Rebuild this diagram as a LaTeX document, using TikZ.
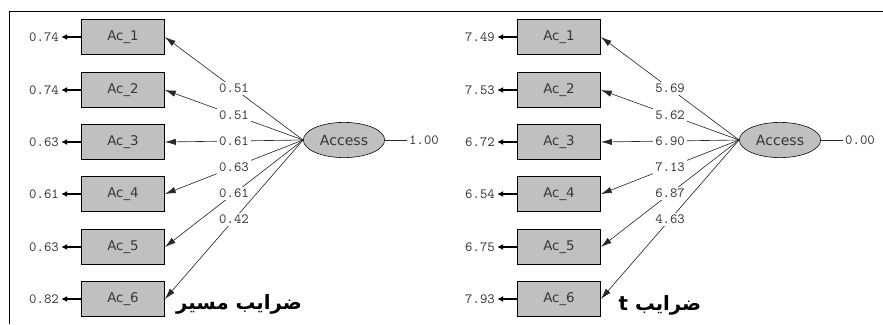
\documentclass[tikz,border=0pt]{standalone}
\usepackage{fontspec}
\setmainfont{DejaVu Sans}
\newfontfamily\arabicfont[Script=Arabic]{DejaVu Sans}
\TeXXeTstate=1
\definecolor{BoxGray}{RGB}{192,192,192}
\definecolor{LineGray}{RGB}{40,40,40}
\definecolor{TextGray}{RGB}{55,55,55}
\usetikzlibrary{arrows.meta, positioning, shapes.geometric}

\begin{document}
\begin{tikzpicture}[x=0.025cm, y=-0.025cm,
    obs/.style={draw, thick, fill=BoxGray, text=TextGray, minimum width=2.07cm, minimum height=0.86cm, font=\fontsize{9.5}{11}\selectfont},
    lat/.style={ellipse, draw, fill=BoxGray, text=TextGray, minimum width=2.02cm, minimum height=0.88cm, font=\fontsize{10}{12}\selectfont},
    num/.style={font=\ttfamily\fontsize{10}{11}\selectfont, text=TextGray, inner sep=1.5pt},
    coef/.style={-{Latex[length=2.7mm, width=1.6mm]}, LineGray, line width=0.45pt},
    err/.style={-{Latex[length=1.5mm, width=1.5mm]}, line width=1.2pt},
    caption/.style={font=\arabicfont\bfseries\fontsize{14}{16}\selectfont}]
  \useasboundingbox (0,0) rectangle (883,324);
  \draw[line width=1pt] (9.5,324) -- (9.5,11.5) -- (883,11.5);
  \node[lat] (accL) at (344,140) {Access};
  \node[lat] (accR) at (780,140) {Access};
  \node[num] (resL) at (424,140) {1.00};
  \node[num] (resR) at (860,140) {0.00};
  \draw[LineGray, line width=0.4pt] (accL) -- (resL);
  \draw[LineGray, line width=0.4pt] (accR) -- (resR);
  \foreach \p/\dx/\i/\y/\e/\b in {L/0/1/37/0.74/0.51, L/0/2/90/0.74/0.51, L/0/3/142/0.63/0.61,
      L/0/4/194/0.61/0.63, L/0/5/247/0.63/0.61, L/0/6/299/0.82/0.42,
      R/436/1/37/7.49/5.69, R/436/2/90/7.53/5.62, R/436/3/142/6.72/6.90,
      R/436/4/194/6.54/7.13, R/436/5/247/6.75/6.87, R/436/6/299/7.93/4.63} {
    \node[obs] (\p\i) at (123+\dx,\y) {Ac\_\i};
    \node[num] (e\p\i) at (44+\dx,\y) {\e};
    \draw[err] (\p\i.west) -- (e\p\i.east);
    \draw[coef] (acc\p.west) -- node[num, fill=white, pos=0.5] (b\p\i) {\b} (\p\i.east);
  }
  \node[caption] (capL) at (239,304) {\beginR ضرایب مسیر\endR};
  \node[caption] (capR) at (660,305) {\beginR ضرایب t\endR};
\end{tikzpicture}
\end{document}
